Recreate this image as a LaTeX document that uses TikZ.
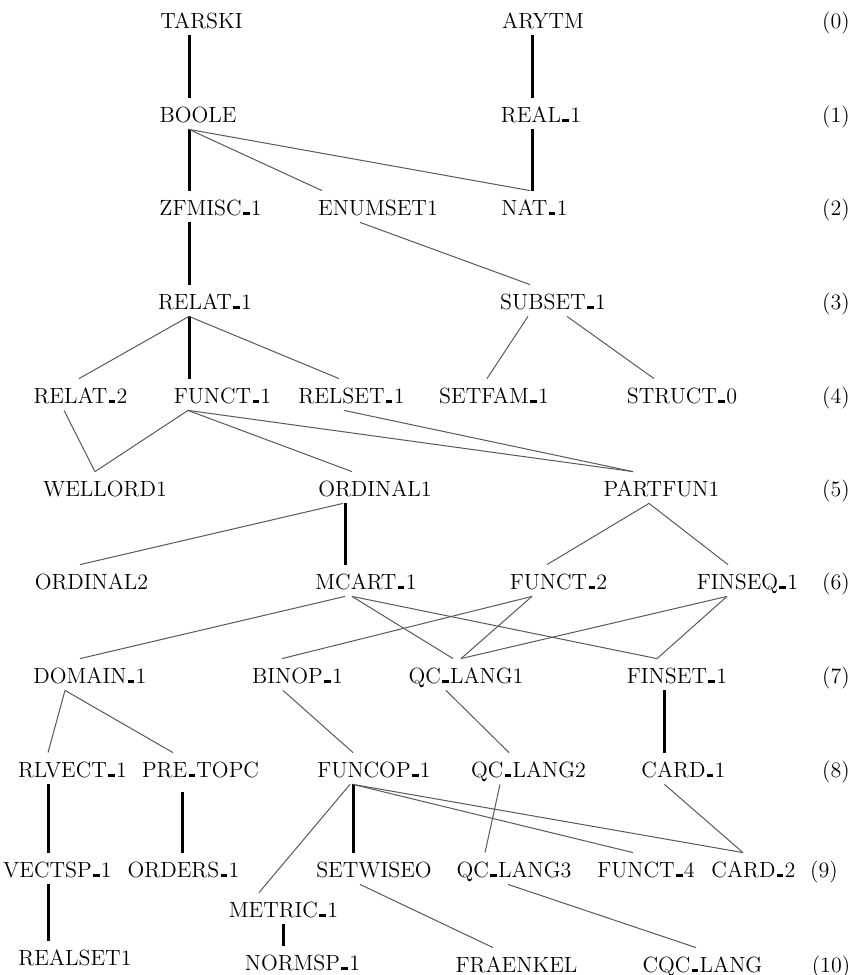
\documentclass[tikz,border=0pt]{standalone}
\newcommand{\usline}{\kern.06em\rule{.3em}{.12em}\kern.06em}
\begin{document}
\begin{tikzpicture}[x=0.5pt,y=-0.5pt,
  modul/.style={anchor=base,inner sep=0pt,text height=12pt,text depth=3.5pt,font=\fontsize{11}{13}\selectfont},
  stufe/.style={anchor=base,inner sep=0pt,font=\fontsize{11}{13}\selectfont},
  dick/.style={line width=1.5pt,black},
  duenn/.style={line width=0.5pt,black!65}]
\path[use as bounding box,fill=white] (0,0) rectangle (861,975);
% Module
\node[modul] (tarski) at (201.5,28) {TARSKI};
\node[modul] (arytm) at (543,28) {ARYTM};
\node[modul] (boole) at (198,122) {BOOLE};
\node[modul] (real1) at (541,122) {REAL\usline 1};
\node[modul] (zfmisc1) at (210.5,215) {ZFMISC\usline 1};
\node[modul] (enumset1) at (378,215) {ENUMSET1};
\node[modul] (nat1) at (534.5,215) {NAT\usline 1};
\node[modul] (relat1) at (205,309) {RELAT\usline 1};
\node[modul] (subset1) at (553,309) {SUBSET\usline 1};
\node[modul] (relat2) at (80.5,403) {RELAT\usline 2};
\node[modul] (funct1) at (222.5,403) {FUNCT\usline 1};
\node[modul] (relset1) at (351.5,403) {RELSET\usline 1};
\node[modul] (setfam1) at (494,403) {SETFAM\usline 1};
\node[modul] (struct0) at (682,403) {STRUCT\usline 0};
\node[modul] (wellord1) at (105,496) {WELLORD1};
\node[modul] (ordinal1) at (375,496) {ORDINAL1};
\node[modul] (partfun1) at (661.5,496) {PARTFUN1};
\node[modul] (ordinal2) at (91.5,589) {ORDINAL2};
\node[modul] (mcart1) at (366,589) {MCART\usline 1};
\node[modul] (funct2) at (558.5,589) {FUNCT\usline 2};
\node[modul] (finseq1) at (747.5,589) {FINSEQ\usline 1};
\node[modul] (domain1) at (90,683) {DOMAIN\usline 1};
\node[modul] (binop1) at (297.5,683) {BINOP\usline 1};
\node[modul] (qclang1) at (466,683) {QC\usline LANG1};
\node[modul] (finset1) at (677,683) {FINSET\usline 1};
\node[modul] (rlvect1) at (72.5,777) {RLVECT\usline 1};
\node[modul] (pretopc) at (200.5,777) {PRE\usline TOPC};
\node[modul] (funcop1) at (374,777) {FUNCOP\usline 1};
\node[modul] (qclang2) at (528.5,777) {QC\usline LANG2};
\node[modul] (card1) at (683.5,777) {CARD\usline 1};
\node[modul] (vectsp1) at (57.5,877) {VECTSP\usline 1};
\node[modul] (orders1) at (183.5,877) {ORDERS\usline 1};
\node[modul] (setwiseo) at (374,877) {SETWISEO};
\node[modul] (qclang3) at (514,877) {QC\usline LANG3};
\node[modul] (funct4) at (646,877) {FUNCT\usline 4};
\node[modul] (card2) at (753.5,877) {CARD\usline 2};
\node[modul] (metric1) at (283.5,917) {METRIC\usline 1};
\node[modul] (realset1) at (75,965) {REALSET1};
\node[modul] (normsp1) at (302.5,970) {NORMSP\usline 1};
\node[modul] (fraenkel) at (516.5,972) {FRAENKEL};
\node[modul] (cqclang) at (702.5,972) {CQC\usline LANG};
% Stufen
\node[stufe] (s0) at (836,28) {(0)};
\node[stufe] (s1) at (836,122) {(1)};
\node[stufe] (s2) at (836,215) {(2)};
\node[stufe] (s3) at (836,309) {(3)};
\node[stufe] (s4) at (836,403) {(4)};
\node[stufe] (s5) at (836,496) {(5)};
\node[stufe] (s6) at (836,589) {(6)};
\node[stufe] (s7) at (836,683) {(7)};
\node[stufe] (s8) at (836,777) {(8)};
\node[stufe] (s9) at (824,877) {(9)};
\node[stufe] (s10) at (831,972) {(10)};
% dicke Linien
\draw[dick] ([shift={(-12.5,0)}]tarski.south) -- ([shift={(-9,0)}]boole.north);
\draw[dick] ([shift={(-11,0)}]arytm.south) -- ([shift={(-9,0)}]real1.north);
\draw[dick] ([shift={(-9,0)}]boole.south) -- ([shift={(-21.5,0)}]zfmisc1.north);
\draw[dick] ([shift={(-9,0)}]real1.south) -- ([shift={(-2.5,0)}]nat1.north);
\draw[dick] ([shift={(-21.5,0)}]zfmisc1.south) -- ([shift={(-16,0)}]relat1.north);
\draw[dick] ([shift={(-16,0)}]relat1.south) -- ([shift={(-33.5,0)}]funct1.north);
\draw[dick] ([shift={(-30,0)}]ordinal1.south) -- ([shift={(-21,0)}]mcart1.north);
\draw[dick] ([shift={(-13,0)}]finset1.south) -- ([shift={(-19.5,0)}]card1.north);
\draw[dick] ([shift={(-24.5,0)}]rlvect1.south) -- ([shift={(-9.5,0)}]vectsp1.north);
\draw[dick] ([shift={(-18.5,8)}]pretopc.south) -- ([shift={(-1.5,0)}]orders1.north);
\draw[dick] ([shift={(-21,0)}]funcop1.south) -- ([shift={(-21,0)}]setwiseo.north);
\draw[dick] ([shift={(-9.5,0)}]vectsp1.south) -- ([shift={(-27,0)}]realset1.north);
\draw[dick] ([shift={(-0.5,0)}]metric1.south) -- ([shift={(-19.5,0)}]normsp1.north);
% duenne Linien
\draw[duenn] ([shift={(-9,0)}]boole.south) -- ([shift={(-56,0)}]enumset1.north);
\draw[duenn] ([shift={(-9,0)}]boole.south) -- ([shift={(-4.5,0)}]nat1.north);
\draw[duenn] ([shift={(-18,0)}]enumset1.south) -- ([shift={(-23,0)}]subset1.north);
\draw[duenn] ([shift={(-16,0)}]relat1.south) -- ([shift={(-1.5,0)}]relat2.north);
\draw[duenn] ([shift={(-16,0)}]relat1.south) -- ([shift={(-12.5,0)}]relset1.north);
\draw[duenn] ([shift={(-25,0)}]subset1.south) -- ([shift={(-7,0)}]setfam1.north);
\draw[duenn] ([shift={(14,0)}]subset1.south) -- ([shift={(-28,0)}]struct0.north);
\draw[duenn] ([shift={(-16.5,0)}]relat2.south) -- ([shift={(-10,0)}]wellord1.north);
\draw[duenn] ([shift={(-34.5,0)}]funct1.south) -- ([shift={(-10,0)}]wellord1.north);
\draw[duenn] ([shift={(-34.5,0)}]funct1.south) -- ([shift={(-23,0)}]ordinal1.north);
\draw[duenn] ([shift={(-34.5,0)}]funct1.south) -- ([shift={(-28.5,0)}]partfun1.north);
\draw[duenn] ([shift={(-7.5,0)}]relset1.south) -- ([shift={(-28.5,0)}]partfun1.north);
\draw[duenn] ([shift={(-32,0)}]ordinal1.south) -- ([shift={(-11.5,0)}]ordinal2.north);
\draw[duenn] ([shift={(-12.5,0)}]partfun1.south) -- ([shift={(-11.5,0)}]funct2.north);
\draw[duenn] ([shift={(-12.5,0)}]partfun1.south) -- ([shift={(-19.5,0)}]finseq1.north);
\draw[duenn] ([shift={(-21,0)}]mcart1.south) -- ([shift={(-10,0)}]domain1.north);
\draw[duenn] ([shift={(-14,0)}]mcart1.south) -- ([shift={(-13,0)}]qclang1.north);
\draw[duenn] ([shift={(-14,0)}]mcart1.south) -- ([shift={(-20,0)}]finset1.north);
\draw[duenn] ([shift={(-26.5,0)}]funct2.south) -- ([shift={(-15.5,0)}]binop1.north);
\draw[duenn] ([shift={(-26.5,0)}]funct2.south) -- ([shift={(-5,0)}]qclang1.north);
\draw[duenn] ([shift={(-20.5,0)}]finseq1.south) -- ([shift={(-5,0)}]qclang1.north);
\draw[duenn] ([shift={(-20.5,0)}]finseq1.south) -- ([shift={(-20,0)}]finset1.north);
\draw[duenn] ([shift={(-25,0)}]domain1.south) -- ([shift={(-24.5,0)}]rlvect1.north);
\draw[duenn] ([shift={(-25,0)}]domain1.south) -- ([shift={(-27.5,0)}]pretopc.north);
\draw[duenn] ([shift={(-14.5,0)}]binop1.south) -- ([shift={(-21,0)}]funcop1.north);
\draw[duenn] ([shift={(-20,0)}]qclang1.south) -- ([shift={(-19.5,0)}]qclang2.north);
\draw[duenn] ([shift={(-24,0)}]funcop1.south) -- ([shift={(-24.5,0)}]metric1.north);
\draw[duenn] ([shift={(-21,0)}]funcop1.south) -- ([shift={(-13,0)}]funct4.north);
\draw[duenn] ([shift={(-21,0)}]funcop1.south) -- ([shift={(-10.5,0)}]card2.north);
\draw[duenn] ([shift={(-28.5,0)}]qclang2.south) -- ([shift={(-29,0)}]qclang3.north);
\draw[duenn] ([shift={(-19,0)}]card1.south) -- ([shift={(-10.5,0)}]card2.north);
\draw[duenn] ([shift={(-14,0)}]setwiseo.south) -- ([shift={(-23.5,0)}]fraenkel.north);
\draw[duenn] ([shift={(-6,0)}]qclang3.south) -- ([shift={(-6.5,0)}]cqclang.north);
\end{tikzpicture}
\end{document}
